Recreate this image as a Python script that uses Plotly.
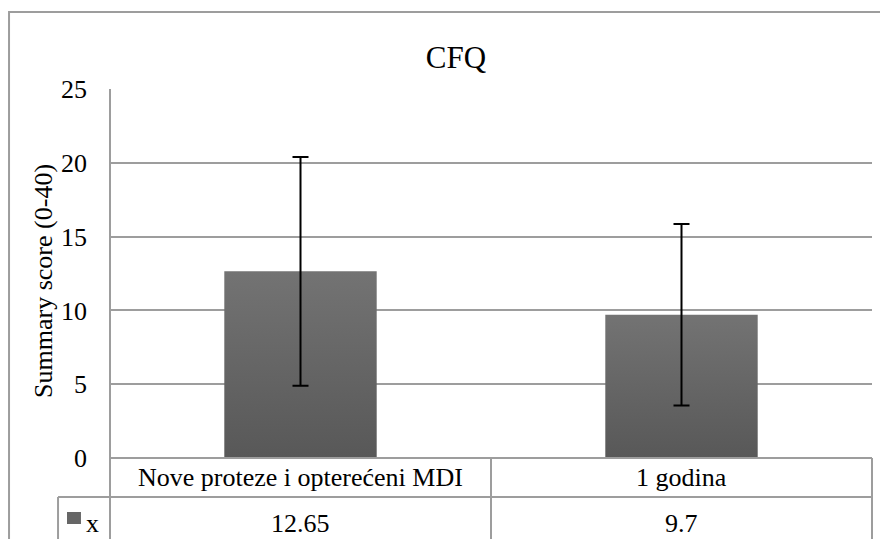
import plotly.graph_objects as go

# data
categories = ["Nove proteze i opterećeni MDI", "1 godina"]
values = [12.65, 9.7]
errors = [7.75, 6.15]
series_name = "x"
value_labels = ["12.65", "9.7"]

FONT = "Liberation Serif"
GRID = "#9d9d9d"
BAR_TOP = "#737373"
BAR_BOT = "#585858"
BAR_W = 0.4

fig = go.Figure()
# bars as filled shapes so they can carry the vertical gradient
for i, v in enumerate(values):
    fig.add_trace(go.Scatter(
        x=[i - BAR_W / 2, i + BAR_W / 2, i + BAR_W / 2, i - BAR_W / 2, i - BAR_W / 2],
        y=[0, 0, v, v, 0],
        mode="lines", line=dict(width=0), fill="toself",
        fillgradient=dict(type="vertical", colorscale=[[0, BAR_BOT], [1, BAR_TOP]]),
        showlegend=False, hoverinfo="skip",
    ))
# error bars
fig.add_trace(go.Scatter(
    x=list(range(len(categories))), y=values, mode="markers",
    marker=dict(size=1, opacity=0), name=series_name,
    error_y=dict(type="data", array=errors, color="black", thickness=2, width=8),
    showlegend=False,
))

# data table under the plot (paper y: 0 = bottom of plot area)
row1_bot = -39 / 369
bottom = -0.3
line = dict(color=GRID, width=2)
shapes = [
    # outer chart frame
    dict(type="rect", xref="paper", yref="paper", x0=-0.1325, x1=1.2, y0=bottom, y1=1.2087,
         line=dict(color=GRID, width=2)),
    # table rows
    dict(type="line", xref="paper", yref="paper", x0=0, x1=1, y0=0, y1=0, line=line),
    dict(type="line", xref="paper", yref="paper", x0=-0.0682, x1=1, y0=row1_bot, y1=row1_bot, line=line),
    dict(type="line", xref="paper", yref="paper", x0=0, x1=0, y0=bottom, y1=1, line=line),
    dict(type="line", xref="paper", yref="paper", x0=1, x1=1, y0=bottom, y1=0, line=line),
    dict(type="line", xref="paper", yref="paper", x0=-0.0682, x1=-0.0682, y0=bottom, y1=row1_bot, line=line),
    # legend key
    dict(type="rect", xref="paper", yref="paper", x0=-0.0564, x1=-0.0381,
         y0=(458 - 524) / 369, y1=(458 - 512) / 369, fillcolor="#666666", line=dict(width=0)),
]
for i in range(len(categories) - 1):
    shapes.append(dict(type="line", xref="x", yref="paper", x0=i + 0.5, x1=i + 0.5,
                       y0=bottom, y1=0, line=line))

annotations = []
for i, (c, v) in enumerate(zip(categories, value_labels)):
    annotations.append(dict(x=i, y=-0.0528, xref="x", yref="paper", text=c, showarrow=False,
                            font=dict(family=FONT, size=26, color="black"), yanchor="middle"))
    annotations.append(dict(x=i, y=-0.1775, xref="x", yref="paper", text=v, showarrow=False,
                            font=dict(family=FONT, size=26, color="black"), yanchor="middle"))
annotations.append(dict(x=-0.0236, y=-0.178, xref="paper", yref="paper", text=series_name,
                        showarrow=False, xanchor="center", yanchor="middle",
                        font=dict(family=FONT, size=26, color="black")))
annotations.append(dict(x=-0.0866, y=0.48, xref="paper", yref="paper", text="Summary score (0-40)",
                        textangle=-90, showarrow=False, xanchor="center", yanchor="middle",
                        font=dict(family=FONT, size=26, color="black")))

# page body has an 8px margin, so the figure is 8px smaller and shifted
fig.update_layout(
    width=880, height=531,
    margin=dict(l=102, r=16, t=81, b=81),
    paper_bgcolor="white", plot_bgcolor="white",
    font=dict(family=FONT),
    title=dict(text="CFQ", x=448 / 880, xanchor="center", y=1 - 49 / 531, yanchor="middle",
               font=dict(family=FONT, size=31, color="black")),
    xaxis=dict(range=[-0.5, len(categories) - 0.5], showticklabels=False, showgrid=False,
               zeroline=False, showline=False, ticks=""),
    yaxis=dict(range=[0, 25], dtick=5, showgrid=True, gridcolor=GRID, gridwidth=2,
               zeroline=False, showline=False, ticks="", ticklabelstandoff=22,
               tickfont=dict(family=FONT, size=26, color="black")),
    shapes=shapes,
    annotations=annotations,
)

fig.write_html("out.html")
